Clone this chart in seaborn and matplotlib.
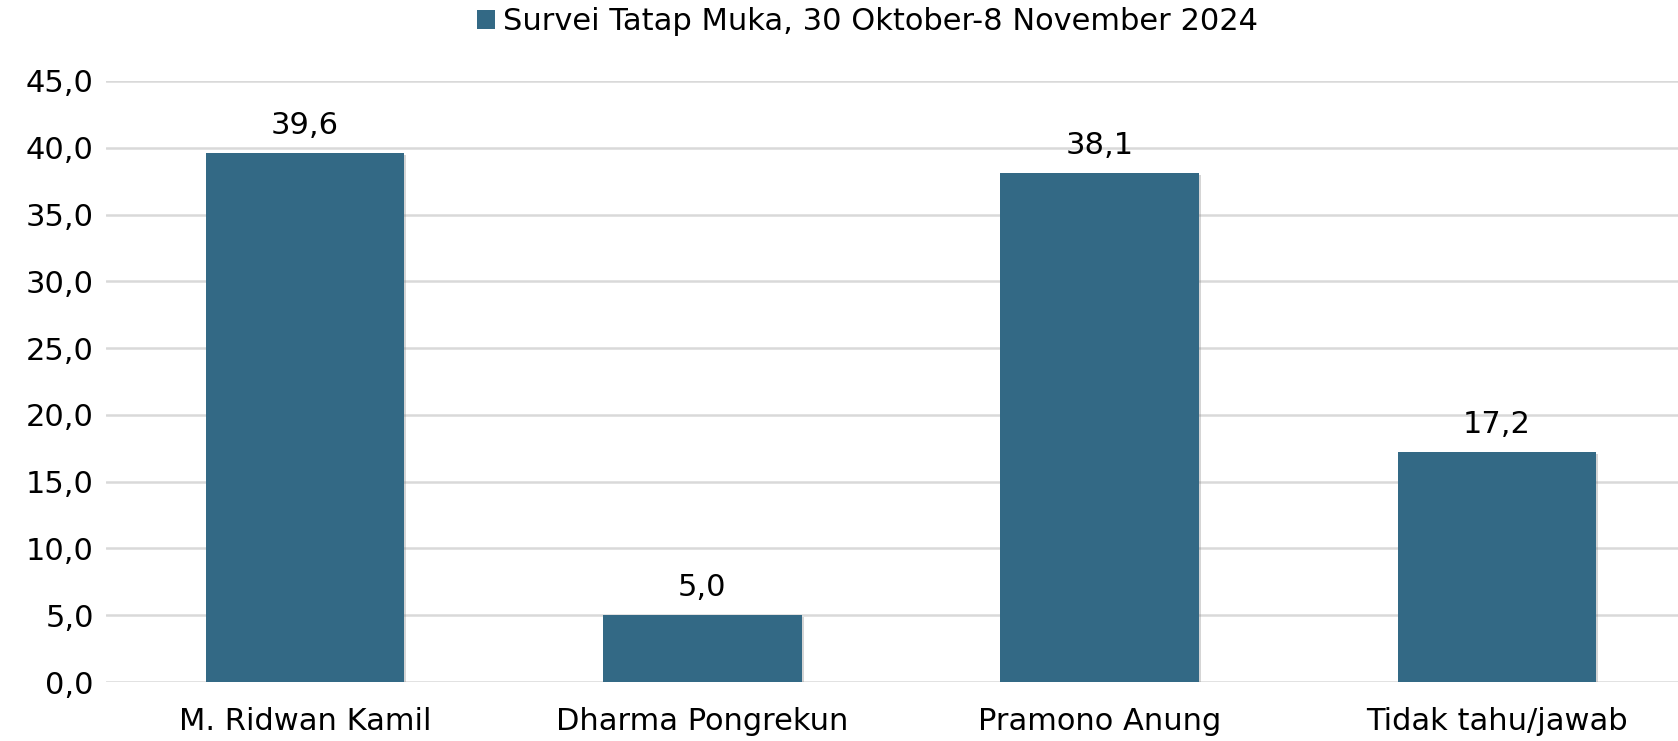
import matplotlib
matplotlib.use("Agg")
import matplotlib.pyplot as plt
import matplotlib.patheffects as pe
from matplotlib.patches import Patch
import seaborn as sns
import pandas as pd

categories = ["M. Ridwan Kamil", "Dharma Pongrekun", "Pramono Anung", "Tidak tahu/jawab"]
values = [39.6, 5.0, 38.1, 17.2]
series_name = "Survei Tatap Muka, 30 Oktober-8 November 2024"
yticks = [0, 5, 10, 15, 20, 25, 30, 35, 40, 45]

sns.set_theme(style="white")
plt.rcParams['font.family'] = ['DejaVu Sans']

df = pd.DataFrame({"cat": categories, "val": values, "series": series_name})

fig = plt.figure(figsize=(16.78, 7.41), dpi=100)
ax = fig.add_axes([0.0634, 0.0796, 0.947, 0.8111])

color = "#336985"
sns.barplot(data=df, x="cat", y="val", hue="series", palette=[color], width=0.5,
            saturation=1, ax=ax, legend=False, zorder=3)

for p in ax.patches:
    p.set_path_effects([pe.SimplePatchShadow(offset=(1.5, -1.5), shadow_rgbFace="#888888", alpha=0.35),
                        pe.Normal()])
    p.set_edgecolor("none")

fs = 22
for p, v in zip(ax.patches, values):
    ax.text(p.get_x() + p.get_width() / 2, v + 1.0, f"{v:.1f}".replace(".", ","),
            ha="center", va="bottom", fontsize=fs, color="#000000")

ax.set_ylim(0, 45)
ax.set_xlim(-0.5, 3.5)
ax.set_yticks(yticks)
ax.set_yticklabels([f"{t:.1f}".replace(".", ",") for t in yticks], fontsize=fs, color="#000000")
ax.tick_params(axis="x", labelsize=fs, colors="#000000", pad=18, length=0)
ax.tick_params(axis="y", pad=9, length=0)
ax.set_xlabel("")
ax.set_ylabel("")
ax.yaxis.grid(True, color="#d9d9d9", linewidth=1.8, zorder=0)
ax.set_axisbelow(True)
for s in ax.spines.values():
    s.set_visible(False)

handle = Patch(facecolor=color, edgecolor="none")
leg = fig.legend([handle], [series_name], loc="center", bbox_to_anchor=(0.517, 0.971),
                 frameon=False, fontsize=fs, handlelength=0.6, handleheight=0.6,
                 handletextpad=0.25, borderaxespad=0)
for t in leg.get_texts():
    t.set_color("#000000")

fig.savefig("out.png", dpi=100, facecolor="white")
